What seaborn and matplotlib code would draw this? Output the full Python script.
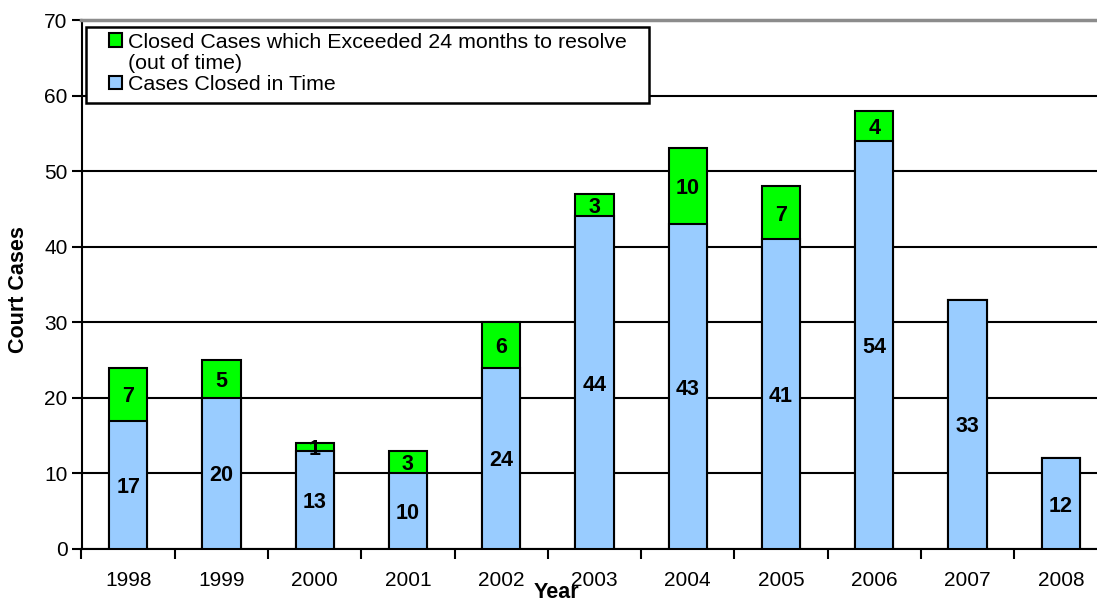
import numpy as np
import pandas as pd
import matplotlib
matplotlib.use("Agg")
import matplotlib.pyplot as plt
from matplotlib.patches import Patch, Rectangle
import seaborn as sns

years = ["1998", "1999", "2000", "2001", "2002", "2003", "2004", "2005", "2006", "2007", "2008"]
in_time = [17, 20, 13, 10, 24, 44, 43, 41, 54, 33, 12]
exceeded = [7, 5, 1, 3, 6, 3, 10, 7, 4, 0, 0]
y_ticks = [0, 10, 20, 30, 40, 50, 60, 70]

GREEN = "#00FF00"
BLUE = "#99CCFF"

sns.set_style("white")
plt.rcParams["font.family"] = ["Liberation Sans", "DejaVu Sans"]
plt.rcParams["text.color"] = "black"
plt.rcParams["axes.labelcolor"] = "black"
plt.rcParams["xtick.color"] = "black"
plt.rcParams["ytick.color"] = "black"

df = pd.DataFrame({"Year": years, "InTime": in_time, "Exceeded": exceeded})
df["Total"] = df["InTime"] + df["Exceeded"]

W, H = 1097, 601
fig = plt.figure(figsize=(W / 100, H / 100), dpi=100)
ax = fig.add_axes([81.5 / W, (H - 549) / H, 1026 / W, 529 / H])

common = dict(saturation=1, edgecolor="black", linewidth=1.5, width=0.41,
              errorbar=None, ax=ax, zorder=3, order=years)
sns.barplot(data=df, x="Year", y="Total", color=GREEN, **common)
sns.barplot(data=df, x="Year", y="InTime", color=BLUE, **common)

for i, (b, g) in enumerate(zip(in_time, exceeded)):
    ax.text(i, b / 2, str(b), ha="center", va="center_baseline",
            fontsize=15.5, fontweight="bold", color="black", zorder=6)
    if g > 0:
        ax.text(i, b + g / 2, str(g), ha="center", va="center_baseline",
                fontsize=15.5, fontweight="bold", color="black", zorder=6)

ax.set_xlim(-0.5, len(years) - 0.5)
ax.set_ylim(0, 70)
ax.set_yticks(y_ticks)
ax.set_yticklabels([str(t) for t in y_ticks])
ax.set_xticks(np.arange(-0.5, len(years), 1.0), minor=True)

ax.yaxis.grid(True, color="black", linewidth=1.5)
ax.xaxis.grid(False)
ax.set_axisbelow(True)

for s in ["left", "bottom"]:
    ax.spines[s].set_color("black")
    ax.spines[s].set_linewidth(1.5)
ax.spines["right"].set_visible(False)
ax.spines["top"].set_color("#8c8c8c")
ax.spines["top"].set_linewidth(2.5)

ax.tick_params(axis="y", which="major", length=7, width=1.5, direction="out",
               labelsize=15, pad=3, color="black", labelcolor="black", left=True)
ax.tick_params(axis="x", which="major", length=0, labelsize=15, pad=16,
               labelcolor="black", bottom=True)
ax.tick_params(axis="x", which="minor", length=7, width=1.5, direction="out",
               color="black", bottom=True)

ax.set_ylabel("Court Cases", fontsize=15.5, fontweight="bold", color="black")
ax.yaxis.set_label_coords(-0.051, 0.49)
ax.set_xlabel("Year", fontsize=15.5, fontweight="bold", color="black")
ax.xaxis.set_label_coords((556 - 81.5) / 1026, -0.062)

frame = Rectangle((0.0044, 0.843), 0.5487, 0.1437, transform=ax.transAxes,
                  facecolor="white", edgecolor="black", linewidth=1.8, zorder=4,
                  clip_on=False)
ax.add_patch(frame)

handles = [Patch(facecolor=GREEN, edgecolor="black", linewidth=1.5),
           Patch(facecolor="none", edgecolor="none"),
           Patch(facecolor=BLUE, edgecolor="black", linewidth=1.5)]
labels = ["Closed Cases which Exceeded 24 months to resolve",
          "(out of time)",
          "Cases Closed in Time"]
leg = ax.legend(handles, labels, loc="upper left", bbox_to_anchor=(0.0268, 0.976),
                frameon=False, fontsize=15.4, handlelength=0.6, handleheight=0.6,
                handletextpad=0.3, labelspacing=0.1, borderpad=0, borderaxespad=0)
for t in leg.get_texts():
    t.set_color("black")
leg.set_zorder(5)

fig.savefig("out.png", dpi=100)
